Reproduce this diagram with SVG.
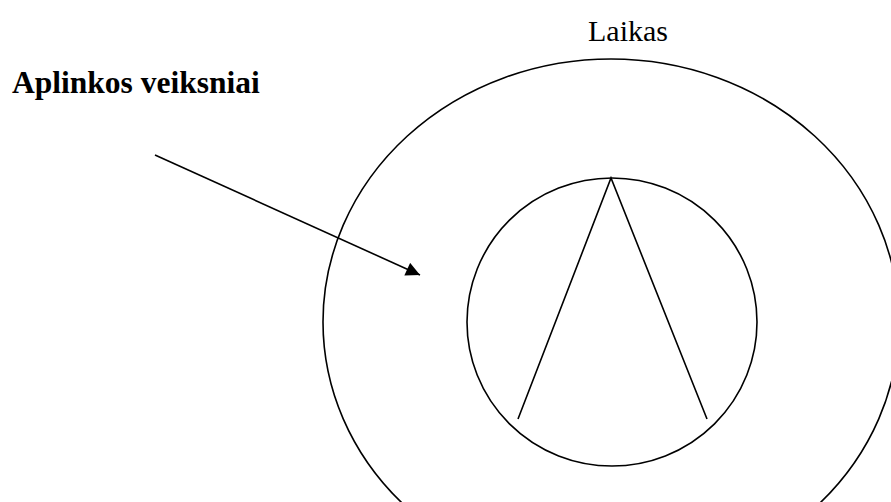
<svg xmlns="http://www.w3.org/2000/svg" width="891" height="502" viewBox="0 0 891 502">
<style>
.ln{fill:none;stroke:#000;stroke-width:1.6}
.t{font-family:"Liberation Serif","Times New Roman",serif;fill:#000}
</style>
<defs>
<marker id="ah" viewBox="0 0 10 10" refX="10" refY="5" markerWidth="16" markerHeight="14" markerUnits="userSpaceOnUse" orient="auto">
<path d="M0,0 L10,5 L0,10 z" fill="#000"/>
</marker>
</defs>
<rect width="891" height="502" fill="#fff"/>
<g id="outer">
<ellipse class="ln" cx="611" cy="322" rx="288" ry="263"/>
</g>
<g id="inner">
<ellipse class="ln" cx="612" cy="322" rx="145" ry="144"/>
<polyline class="ln" points="518,419 611,178 707,419"/>
</g>
<g id="labels">
<text class="t" x="12" y="93" font-size="31.5" font-weight="bold">Aplinkos veiksniai</text>
<text class="t" x="588" y="41" font-size="30">Laikas</text>
</g>
<g id="connectors">
<line class="ln" x1="155" y1="155" x2="420" y2="275" marker-end="url(#ah)"/>
</g>
</svg>
